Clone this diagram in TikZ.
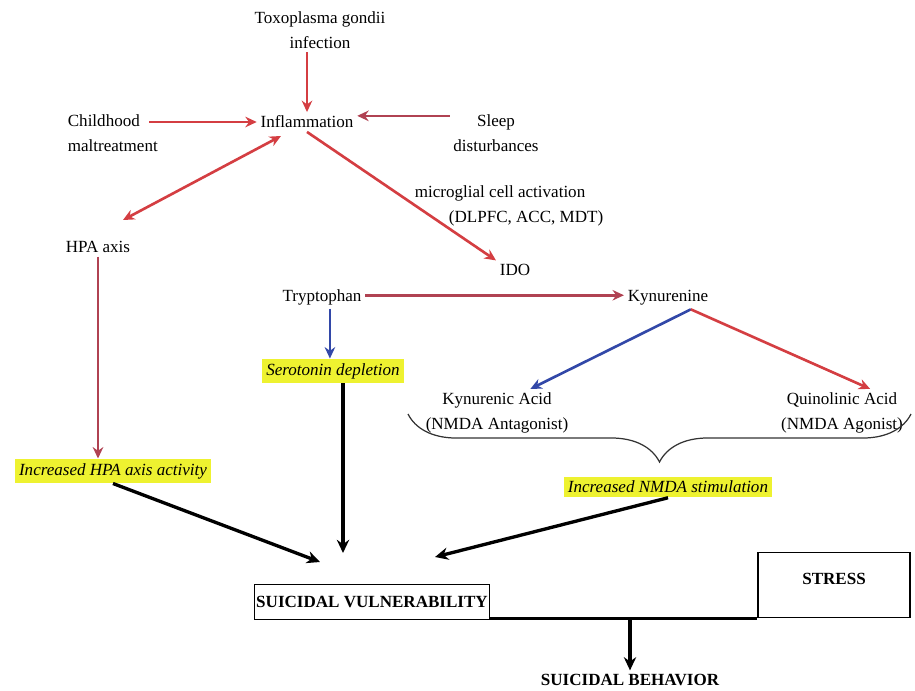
\documentclass[tikz,border=0pt]{standalone}
\usepackage{fontspec}
\setmainfont{Liberation Serif}
\usetikzlibrary{arrows.meta,positioning,decorations.pathreplacing}
\definecolor{arrowred}{RGB}{212,62,66}
\definecolor{darkred}{RGB}{176,66,82}
\definecolor{arrowblue}{RGB}{50,72,168}
\definecolor{marker}{RGB}{238,242,48}
\tikzstyle{term} = [inner sep=2pt,align=center,font=\fontsize{9.7}{14.2}\selectfont]
\tikzstyle{marked} = [term,fill=marker,inner sep=2.5pt,font=\fontsize{9.7}{14.2}\selectfont\itshape]
\tikzstyle{framed} = [draw,line width=0.8pt,font=\fontsize{9.7}{14.2}\selectfont\bfseries]
\tikzstyle{redarrow} = [-{Stealth[length=6.5pt,width=6pt]},line width=1.5pt,color=arrowred]
\tikzstyle{darkarrow} = [redarrow,color=darkred]
\tikzstyle{bluearrow} = [-{Stealth[length=6.5pt,width=6pt]},line width=1.5pt,color=arrowblue]
\tikzstyle{blackarrow} = [-{Stealth[length=7.5pt,width=7pt]},line width=1.9pt]
\def \px {0.02cm}

\begin{document}
\begin{tikzpicture}[x=\px,y=-\px]
  \useasboundingbox (0,0) rectangle (915,690);
  % top row
  \node[term] (toxo) at (320,30) {Toxoplasma gondii\\infection};
  \node[term] (infl) at (307,122) {Inflammation};
  \node[term,anchor=west,align=left] (child) at (64,133) {Childhood\\maltreatment};
  \node[term] (sleep) at (496,133) {Sleep\\disturbances};
  \node[term,anchor=west,align=left] (mgl) at (411,206) {microglial cell activation\\\hspace*{2em}(DLPFC, ACC, MDT)};
  % middle
  \node[term] (hpa) at (98,247) {HPA axis};
  \node[term] (ido) at (515,270) {IDO};
  \node[term] (tryp) at (322,297) {Tryptophan};
  \node[term] (kyn) at (668,298) {Kynurenine};
  \node[marked] (sero) at (333,371) {Serotonin depletion};
  \node[term] (kacid) at (497,413) {Kynurenic Acid\\(NMDA Antagonist)};
  \node[term] (qacid) at (842,413) {Quinolinic Acid\\(NMDA Agonist)};
  \node[marked] (nmda) at (668,487) {Increased NMDA stimulation};
  \node[marked] (hpaact) at (113,471) {Increased HPA axis activity};
  % bottom
  \node[framed,inner xsep=1pt,minimum height=0.7cm] (vuln) at (372,602) {SUICIDAL VULNERABILITY};
  \node[framed,minimum width=3.04cm,minimum height=1.3cm,text depth=0.24cm] (stress) at (834,585) {STRESS};
  \node[term,font=\fontsize{9.7}{14.2}\selectfont\bfseries] (behav) at (630,680) {SUICIDAL BEHAVIOR};

  \coordinate (sleepin) at ([yshift=3.5pt]infl.east);
  \coordinate (childout) at ([xshift=-7pt]child.east |- infl);
  \coordinate (hpaup) at (281,136);
  \coordinate (hpadown) at (123,220);
  \coordinate (trypout) at ([yshift=1pt]tryp.east);
  \coordinate (kynout) at ([xshift=13pt]kyn.south);
  \coordinate (vinL) at (320,562);
  \coordinate (vinM) at (343,553);
  \coordinate (vinR) at (435,557);

  \draw[redarrow] (toxo.south -| infl) -- (infl.north);
  \draw[redarrow] (childout) -- (infl.west);
  \draw[darkarrow] (sleepin -| sleep.west) -- (sleepin);
  \draw[redarrow,{Stealth[length=6.5pt,width=6pt]}-{Stealth[length=6.5pt,width=6pt]}] (hpaup) -- (hpadown);
  \draw[redarrow] (infl.south) -- (ido.north west);
  \draw[darkarrow] (hpa.south) -- (hpa.south |- hpaact.north);
  \draw[darkarrow] (trypout) -- (trypout -| kyn.west);
  \draw[bluearrow] ([xshift=4.5pt]tryp.south) -- ([xshift=4.5pt]tryp.south |- sero.north);
  \draw[bluearrow] (kynout) -- ([xshift=19pt]kacid.north);
  \draw[redarrow] (kynout) -- ([xshift=16pt]qacid.north);
  % brace under the acids
  \draw[black!80,line width=0.7pt,decorate,decoration={brace,mirror,amplitude=0.96cm}] (408,414) -- (911,414);
  % towards vulnerability
  \draw[blackarrow] (hpaact.south) -- (vinL);
  \draw[blackarrow] (sero.south -| vinM) -- (vinM);
  \draw[blackarrow] (nmda.south) -- (vinR);
  \draw[line width=1.7pt] (vuln.east |- stress.south) -- (stress.south west);
  \draw[blackarrow] (behav.north |- stress.south) -- (behav.north);
\end{tikzpicture}
\end{document}
